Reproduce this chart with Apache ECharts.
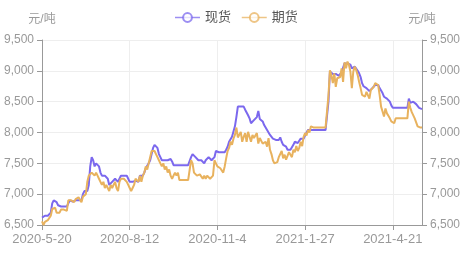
<!DOCTYPE html>
<html>
<head>
<meta charset="utf-8">
<script src="https://cdn.jsdelivr.net/npm/echarts@6/dist/echarts.min.js"></script>
<style>html,body{margin:0;padding:0;background:#fff;}#c{width:472px;height:259px;}</style>
</head>
<body>
<div id="c"></div>
<script>
// weekday categories 2020-5-20 .. 2021-5-19
var startDate = [2020, 5, 20];
var endDate = [2021, 5, 19];
var categories = [];
(function () {
  var d = new Date(startDate[0], startDate[1] - 1, startDate[2]);
  var e = new Date(endDate[0], endDate[1] - 1, endDate[2]);
  while (d <= e) {
    var w = d.getDay();
    if (w !== 0 && w !== 6) categories.push(d.getFullYear() + '-' + (d.getMonth() + 1) + '-' + d.getDate());
    d.setDate(d.getDate() + 1);
  }
})();

var seriesNames = ['现货', '期货'];
var yTicks = { min: 6500, max: 9500, interval: 500 };
var unitName = '元/吨';

var spot = [
  6620, 6600, 6650, 6650, 6650, 6660, 6700, 6850, 6900, 6900,
  6870, 6820, 6800, 6800, 6800, 6800, 6800, 6800, 6850, 6900,
  6900, 6880, 6880, 6900, 6900, 6900, 6880, 6900, 7000, 7050,
  7050, 7050, 7150, 7450, 7600, 7550, 7450, 7500, 7480, 7450,
  7350, 7300, 7300, 7300, 7300, 7250, 7150, 7150, 7200, 7200,
  7250, 7230, 7200, 7250, 7300, 7300, 7300, 7300, 7300, 7250,
  7200, 7200, 7200, 7200, 7220, 7250, 7200, 7300, 7300, 7300,
  7350, 7420, 7450, 7500, 7550, 7650, 7750, 7800, 7780, 7750,
  7650, 7600, 7550, 7550, 7550, 7550, 7550, 7550, 7570, 7530,
  7470, 7470, 7470, 7470, 7470, 7470, 7470, 7470, 7470, 7470,
  7470, 7470, 7600, 7650, 7620, 7600, 7600, 7550, 7550, 7550,
  7520, 7500, 7550, 7580, 7600, 7570, 7550, 7550, 7600, 7700,
  7680, 7680, 7680, 7680, 7680, 7680, 7720, 7770, 7850, 7870,
  7930, 7960, 8100, 8250, 8420, 8420, 8420, 8420, 8420, 8370,
  8350, 8280, 8230, 8150, 8160, 8200, 8200, 8250, 8350, 8220,
  8200, 8180, 8120, 8080, 8040, 8040, 7960, 7930, 7900, 7880,
  7880, 7880, 7880, 7920, 7850, 7800, 7790, 7770, 7720, 7690,
  7720, 7750, 7800, 7850, 7850, 7830, 7850, 7900, 7920, 7900,
  7950, 8000, 8040, 8040, 8040, 8040, 8040, 8040, 8040, 8040,
  8040, 8040, 8040, 8040, 8040, 8040, 8500, 8990, 9020, 8950,
  8950, 8950, 8980, 8920, 8950, 8980, 9050, 9120, 9130, 9120,
  9120, 9100, 9040, 9070, 9070, 9070, 9000, 8960, 8900, 8800,
  8750, 8730, 8720, 8720, 8670, 8700, 8720, 8690, 8770, 8800,
  8770, 8720, 8680, 8640, 8580, 8550, 8550, 8550, 8500, 8440,
  8400, 8400, 8400, 8400, 8400, 8400, 8400, 8400, 8400, 8400,
  8400, 8550, 8480, 8500, 8500, 8480, 8460, 8450, 8400, 8380, 8380
];

var futures = [
  6560, 6500, 6550, 6580, 6580, 6600, 6650, 6760, 6780, 6780,
  6700, 6720, 6700, 6750, 6750, 6750, 6740, 6730, 6900, 6920,
  6900, 6880, 6870, 6920, 6900, 6950, 6930, 6870, 6960, 6960,
  7000, 7200, 7300, 7330, 7350, 7330, 7300, 7350, 7300, 7250,
  7200, 7150, 7200, 7100, 7150, 7100, 7050, 7150, 7100, 7150,
  7200, 7100, 7050, 7200, 7250, 7250, 7250, 7230, 7200, 7150,
  7100, 7050, 7100, 7150, 7250, 7220, 7200, 7300, 7200, 7300,
  7350, 7450, 7400, 7500, 7600, 7700, 7720, 7700, 7650, 7600,
  7550, 7500, 7450, 7500, 7400, 7450, 7350, 7400, 7300, 7250,
  7300, 7350, 7300, 7350, 7230, 7230, 7230, 7230, 7230, 7230,
  7230, 7230, 7550, 7500, 7350, 7320, 7300, 7300, 7320, 7300,
  7250, 7300, 7250, 7300, 7300, 7250, 7230, 7300, 7550, 7500,
  7450, 7450, 7420, 7400, 7350, 7450, 7580, 7700, 7750, 7850,
  7800, 7900, 7960, 8080, 7920, 7900, 8010, 7850, 7930, 7990,
  7850, 8010, 7930, 7850, 7960, 7910, 7950, 7990, 7820, 7910,
  7880, 7820, 7800, 7850, 7770, 7910, 7720, 7650, 7550, 7500,
  7470, 7520, 7600, 7580, 7700, 7580, 7640, 7560, 7620, 7680,
  7640, 7600, 7720, 7680, 7780, 7700, 7750, 7850, 7780, 7930,
  7990, 7950, 8040, 8000, 8100, 8080, 8080, 8080, 8080, 8080,
  8080, 8080, 8080, 8080, 8080, 8080, 8600, 9010, 8930, 8800,
  8960, 8740, 8880, 8850, 8900, 9040, 8820, 9140, 9040, 9150,
  9100, 8990, 8720, 8990, 9070, 9010, 8930, 8820, 8720, 8610,
  8580, 8580, 8660, 8630, 8550, 8690, 8660, 8740, 8800, 8790,
  8770, 8610, 8420, 8340, 8260, 8390, 8310, 8270, 8230, 8180,
  8200, 8150, 8230, 8230, 8230, 8230, 8230, 8230, 8230, 8230,
  8230, 8500, 8400, 8330, 8360, 8230, 8200, 8100, 8080, 8080, 8080
];

var FONT = 'Liberation Sans, "Noto Sans CJK SC", sans-serif';
var chart = echarts.init(document.getElementById('c'), null, { renderer: 'canvas' });

function yAxisCfg(pos) {
  return {
    type: 'value',
    position: pos,
    name: unitName,
    nameGap: 14,
    nameTextStyle: { color: '#999', fontSize: 12, fontFamily: FONT },
    min: yTicks.min, max: yTicks.max, interval: yTicks.interval,
    axisLine: { show: true, lineStyle: { color: '#999' } },
    axisTick: { show: true, length: 5, lineStyle: { color: '#999' } },
    axisLabel: {
      color: '#999', fontSize: 12, fontFamily: FONT, margin: 8,
      formatter: function (v) { return v.toLocaleString('en-US'); }
    },
    splitLine: { show: pos === 'left', lineStyle: { color: '#eee' } }
  };
}

chart.setOption({
  animation: false,
  color: ['#7b68ee', '#e8b25e'],
  legend: {
    data: seriesNames,
    top: 6,
    left: 'center',
    itemWidth: 25,
    itemHeight: 11,
    itemGap: 10,
    lineStyle: { width: 1.5, opacity: 0.75 },
    itemStyle: { borderWidth: 1.5, opacity: 0.75 },
    textStyle: { color: '#555', fontSize: 13, fontFamily: FONT }
  },
  grid: { left: 42, right: 50, top: 40, bottom: 34 },
  xAxis: {
    type: 'category',
    boundaryGap: false,
    data: categories,
    axisLine: { lineStyle: { color: '#999' } },
    axisTick: { show: true, interval: 59, length: 5, lineStyle: { color: '#999' } },
    axisLabel: { interval: 59, color: '#999', fontSize: 13, fontFamily: FONT, margin: 8 },
    splitLine: { show: true, interval: 59, lineStyle: { color: '#eee' } }
  },
  yAxis: [yAxisCfg('left'), yAxisCfg('right')],
  series: [
    {
      name: seriesNames[0], type: 'line', data: spot, yAxisIndex: 0,
      symbol: 'emptyCircle', symbolSize: 8, showSymbol: false,
      lineStyle: { width: 2 }
    },
    {
      name: seriesNames[1], type: 'line', data: futures, yAxisIndex: 0,
      symbol: 'emptyCircle', symbolSize: 8, showSymbol: false,
      lineStyle: { width: 2 }
    }
  ]
});
</script>
</body>
</html>
